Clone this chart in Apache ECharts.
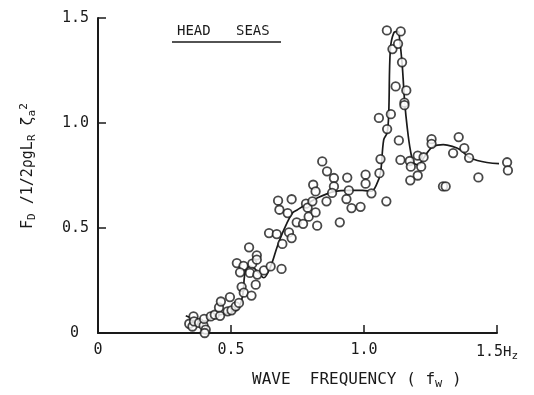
<!DOCTYPE html>
<html>
<head>
<meta charset="utf-8">
<script src="https://cdn.jsdelivr.net/npm/echarts@6/dist/echarts.min.js"></script>
<style>html,body{margin:0;padding:0;background:#fff;}#c{width:534px;height:395px;}</style>
</head>
<body>
<div id="c"></div>
<script>
// Measured points (wave frequency, Hz) and non-dimensional drift force
const pointX = [0.343,0.355,0.359,0.361,0.380,0.397,0.399,0.405,0.401,0.424,0.439,0.459,0.455,0.462,0.487,0.502,0.496,0.518,0.530,0.540,0.548,0.577,0.593,0.522,0.547,0.580,0.534,0.571,0.599,0.568,0.597,0.597,0.624,0.649,0.690,0.643,0.672,0.718,0.728,0.693,0.677,0.728,0.682,0.713,0.747,0.771,0.782,0.788,0.792,0.806,0.818,0.824,0.809,0.818,0.843,0.861,0.887,0.887,0.880,0.859,0.909,0.937,0.943,0.934,0.953,0.987,1.006,1.006,1.028,1.058,1.062,1.056,1.084,1.087,1.101,1.086,1.107,1.128,1.138,1.143,1.119,1.159,1.152,1.152,1.131,1.137,1.172,1.176,1.202,1.224,1.215,1.202,1.174,1.254,1.254,1.297,1.307,1.335,1.356,1.377,1.395,1.430,1.538,1.541];
const pointY = [0.044,0.031,0.079,0.055,0.048,0.035,0.067,0.016,0.000,0.079,0.087,0.082,0.122,0.150,0.103,0.108,0.171,0.127,0.143,0.220,0.192,0.178,0.230,0.333,0.320,0.330,0.289,0.286,0.278,0.408,0.370,0.349,0.298,0.317,0.305,0.476,0.471,0.479,0.452,0.424,0.630,0.637,0.587,0.571,0.527,0.520,0.616,0.597,0.554,0.627,0.574,0.511,0.706,0.674,0.817,0.770,0.738,0.698,0.667,0.627,0.527,0.740,0.679,0.638,0.595,0.601,0.754,0.711,0.665,0.761,0.828,1.024,0.627,0.971,1.042,1.441,1.352,1.377,1.436,1.289,1.174,1.155,1.097,1.085,0.917,0.824,0.819,0.792,0.845,0.837,0.792,0.750,0.727,0.923,0.901,0.698,0.698,0.857,0.933,0.880,0.834,0.741,0.813,0.774];
// Faired curve through the measurements
const curveX = [0.330,0.368,0.398,0.435,0.492,0.524,0.543,0.555,0.574,0.604,0.623,0.649,0.674,0.699,0.731,0.750,0.780,0.824,0.887,0.949,0.994,1.028,1.047,1.062,1.074,1.087,1.093,1.099,1.112,1.128,1.134,1.143,1.149,1.153,1.162,1.174,1.187,1.205,1.220,1.238,1.261,1.298,1.332,1.362,1.400,1.462,1.537,1.581];
const curveY = [0.082,0.063,0.054,0.078,0.097,0.111,0.173,0.301,0.317,0.287,0.263,0.317,0.412,0.492,0.571,0.587,0.611,0.643,0.673,0.679,0.679,0.675,0.706,0.762,0.920,0.954,1.049,1.349,1.429,1.436,1.397,1.287,1.174,1.097,0.984,0.873,0.810,0.801,0.825,0.859,0.889,0.897,0.889,0.873,0.833,0.812,0.806,0.806];
const xTicks = {0:'0',0.5:'0.5',1:'1.0',1.5:'1.5{h|H}{z|z}'};
const yTicks = {0:'{o|0}',0.5:'0.5',1:'1.0',1.5:'1.5'};

const FONT = 'DejaVu Sans Mono';
const INK = '#1a1a1a';
const chart = echarts.init(document.getElementById('c'), null, {renderer:'canvas'});
const pts = pointX.map((x,i)=>[x, pointY[i]]);
const crv = curveX.map((x,i)=>[x, curveY[i]]);
chart.setOption({
  animation:false,
  backgroundColor:'#fff',
  grid:{left:98, right:37, top:18, bottom:62},
  xAxis:{type:'value', min:0, max:1.5, interval:0.5,
    axisLine:{lineStyle:{color:INK, width:2}},
    axisTick:{inside:true, length:8, lineStyle:{color:INK, width:1.5}},
    splitLine:{show:false},
    axisLabel:{margin:10, color:INK, fontFamily:FONT, fontSize:15,
      formatter:v=>xTicks[v]!==undefined?xTicks[v]:'',
      rich:{h:{fontFamily:FONT, fontSize:14, color:INK}, z:{fontFamily:FONT, fontSize:11, color:INK, padding:[8,0,0,0]}}}
  },
  yAxis:{type:'value', min:0, max:1.5, interval:0.5,
    axisLine:{lineStyle:{color:INK, width:2}},
    axisTick:{inside:true, length:8, lineStyle:{color:INK, width:1.5}},
    splitLine:{show:false},
    axisLabel:{margin:9, color:INK, fontFamily:FONT, fontSize:15,
      formatter:v=>yTicks[v]!==undefined?yTicks[v]:'',
      rich:{o:{fontFamily:FONT, fontSize:15, color:INK, padding:[0,10,0,0]}}}
  },
  series:[
    {type:'line', data:crv, smooth:0.35, showSymbol:false, clip:false,
      lineStyle:{color:INK, width:1.7}, z:2},
    {type:'scatter', data:pts, symbol:'circle', symbolSize:8.5, clip:false,
      itemStyle:{color:'#fff', borderColor:INK, borderWidth:1.8}, z:3}
  ],
  graphic:[
    {type:'text', left:177, top:24, style:{text:'HEAD   SEAS', fontFamily:FONT, fontSize:14, fill:INK}},
    {type:'line', shape:{x1:172, y1:42, x2:281, y2:42}, style:{stroke:INK, lineWidth:1.6}},
    {type:'text', left:252, top:372, style:{text:'WAVE  FREQUENCY ( f{s|w} )', fontFamily:FONT, fontSize:16, fill:INK,
      rich:{s:{fontFamily:FONT, fontSize:12, fill:INK, padding:[8,0,0,0]}}}},
    {type:'text', x:19, y:229, rotation:Math.PI/2,
      style:{text:'F{s|D} /1/2ρgL{s|R} ζ{s|a}{p|2}', fontFamily:FONT, fontSize:15, fill:INK,
      rich:{s:{fontFamily:FONT, fontSize:11, fill:INK, padding:[8,0,0,0]}, p:{fontFamily:FONT, fontSize:11, fill:INK, padding:[0,0,8,0]}}}}
  ]
});
</script>
</body>
</html>
